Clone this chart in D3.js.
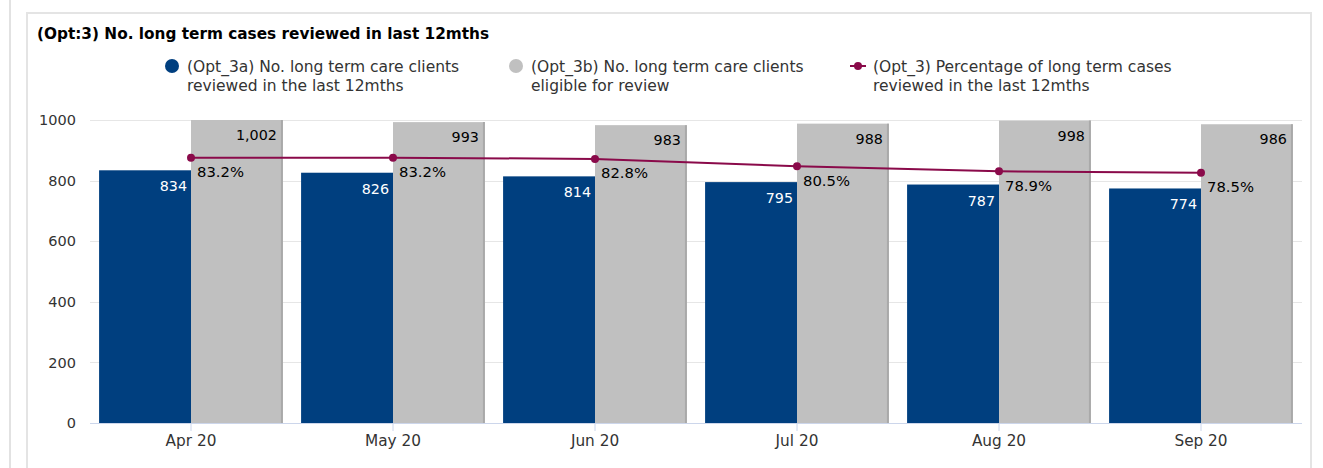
<!DOCTYPE html>
<html>
<head>
<meta charset="utf-8">
<script src="https://cdn.jsdelivr.net/npm/d3@7"></script>
<style>
  html, body { margin: 0; padding: 0; background: #fff; }
  svg { display: block; font-family: "DejaVu Sans", Verdana, sans-serif; }
</style>
</head>
<body>
<svg id="chart" width="1323" height="468"></svg>
<script>
// Monthly figures for long term care reviews
const months = ["Apr 20", "May 20", "Jun 20", "Jul 20", "Aug 20", "Sep 20"];
const reviewed = [834, 826, 814, 795, 787, 774];
const eligible = [1002, 993, 983, 988, 998, 986];
const percentReviewed = [0.832, 0.832, 0.828, 0.805, 0.789, 0.785];
const yTicks = [0, 200, 400, 600, 800, 1000];

const seriesNames = [
  ["(Opt_3a) No. long term care clients", "reviewed in the last 12mths"],
  ["(Opt_3b) No. long term care clients", "eligible for review"],
  ["(Opt_3) Percentage of long term cases", "reviewed in the last 12mths"]
];
const colors = { reviewed: "#003f7f", eligible: "#c0c0c0", eligibleEdge: "#a9a9a9", pct: "#8a0a4a" };

const svg = d3.select("#chart");
const W = 1323, H = 468;

// page frame and card
svg.append("line").attr("x1", 10).attr("x2", 10).attr("y1", 0).attr("y2", H)
  .attr("stroke", "#e2e2e2").attr("stroke-width", 2);
svg.append("rect").attr("x", 27).attr("y", 13).attr("width", 1284).attr("height", 470)
  .attr("fill", "#fff").attr("stroke", "#e4e4e4").attr("stroke-width", 2);

// title
svg.append("text").attr("x", 37).attr("y", 39)
  .attr("font-size", 15.3).attr("font-weight", "bold").attr("fill", "#000")
  .text("(Opt:3) No. long term cases reviewed in last 12mths");

const plot = { left: 90, right: 1302, top: 120, bottom: 423 };

const x = d3.scaleBand().domain(months).range([plot.left, plot.right])
  .paddingInner(0.09).paddingOuter(0.045);
const xSub = d3.scaleBand().domain(["reviewed", "eligible"]).range([0, x.bandwidth()]);
const y = d3.scaleLinear().domain([0, 1000]).range([plot.bottom, plot.top]);
const y2 = d3.scaleLinear().domain([0, 0.95]).range([plot.bottom, plot.top]);

// gridlines
svg.append("g").selectAll("line").data(yTicks.filter(t => t > 0)).join("line")
  .attr("x1", plot.left).attr("x2", plot.right)
  .attr("y1", d => Math.round(y(d)) + 0.5).attr("y2", d => Math.round(y(d)) + 0.5)
  .attr("stroke", "#e6e6e6");

// y axis labels
const yAxis = svg.append("g").attr("transform", `translate(${plot.left},0)`)
  .call(d3.axisLeft(y).tickValues(yTicks).tickSize(0).tickPadding(14).tickFormat(d3.format("d")));
yAxis.select(".domain").remove();
yAxis.selectAll("text").attr("font-size", 14.5).attr("fill", "#333")
  .attr("font-family", "DejaVu Sans, Verdana, sans-serif");

// clip bars to the plot area
svg.append("clipPath").attr("id", "plotClip").append("rect")
  .attr("x", plot.left).attr("y", plot.top).attr("width", plot.right - plot.left)
  .attr("height", plot.bottom - plot.top);

const bars = svg.append("g").attr("clip-path", "url(#plotClip)");

bars.selectAll("rect.rev").data(months).join("rect").attr("class", "rev")
  .attr("x", (d) => x(d) + xSub("reviewed"))
  .attr("width", xSub.bandwidth())
  .attr("y", (d, i) => y(reviewed[i]))
  .attr("height", (d, i) => y(0) - y(reviewed[i]))
  .attr("fill", colors.reviewed);

bars.selectAll("rect.elig").data(months).join("rect").attr("class", "elig")
  .attr("x", (d) => x(d) + xSub("eligible"))
  .attr("width", xSub.bandwidth())
  .attr("y", (d, i) => y(eligible[i]))
  .attr("height", (d, i) => y(0) - y(eligible[i]))
  .attr("fill", colors.eligible);

bars.selectAll("line.edge").data(months).join("line").attr("class", "edge")
  .attr("x1", (d) => x(d) + xSub("eligible") + xSub.bandwidth() - 1)
  .attr("x2", (d) => x(d) + xSub("eligible") + xSub.bandwidth() - 1)
  .attr("y1", (d, i) => y(eligible[i]))
  .attr("y2", y(0))
  .attr("stroke", colors.eligibleEdge).attr("stroke-width", 2);

// x axis
const xAxis = svg.append("g").attr("transform", `translate(0,${plot.bottom})`)
  .call(d3.axisBottom(x).tickSize(8).tickPadding(4));
xAxis.select(".domain").attr("stroke", "#ccd6eb").attr("d", `M${plot.left},0.5H${plot.right}`);
xAxis.selectAll(".tick line").attr("stroke", "#ccd6eb");
xAxis.selectAll("text").attr("font-size", 15.3).attr("fill", "#333")
  .attr("font-family", "DejaVu Sans, Verdana, sans-serif");

// data labels on bars
const fmt = d3.format(",");
svg.append("g").selectAll("text").data(months).join("text")
  .attr("x", d => x(d) + xSub("reviewed") + xSub.bandwidth() - 4)
  .attr("y", (d, i) => y(reviewed[i]) + 21)
  .attr("text-anchor", "end").attr("font-size", 14.3).attr("fill", "#fff")
  .text((d, i) => fmt(reviewed[i]));

svg.append("g").selectAll("text").data(months).join("text")
  .attr("x", d => x(d) + xSub("eligible") + xSub.bandwidth() - 6)
  .attr("y", (d, i) => Math.max(y(eligible[i]), plot.top) + 20)
  .attr("text-anchor", "end").attr("font-size", 14.3).attr("fill", "#000")
  .text((d, i) => fmt(eligible[i]));

// percentage line
const cx = d => x(d) + x.bandwidth() / 2;
const line = d3.line().x(d => cx(d)).y((d, i) => y2(percentReviewed[i]));
svg.append("path").datum(months).attr("d", line)
  .attr("fill", "none").attr("stroke", colors.pct).attr("stroke-width", 2);
svg.append("g").selectAll("circle").data(months).join("circle")
  .attr("cx", cx).attr("cy", (d, i) => y2(percentReviewed[i])).attr("r", 4)
  .attr("fill", colors.pct);
svg.append("g").selectAll("text").data(months).join("text")
  .attr("x", d => cx(d) + 6)
  .attr("y", (d, i) => y2(percentReviewed[i]) + 19.5)
  .attr("font-size", 14.8).attr("fill", "#000")
  .text((d, i) => d3.format(".1%")(percentReviewed[i]));

// legend
const legend = svg.append("g").attr("font-size", 15.5).attr("fill", "#333");
const legendX = [172, 516, 858];
legendX.forEach((lx, k) => {
  const g = legend.append("g");
  if (k < 2) {
    g.append("circle").attr("cx", lx).attr("cy", 66).attr("r", 7)
      .attr("fill", k === 0 ? colors.reviewed : colors.eligible);
  } else {
    g.append("line").attr("x1", lx - 8).attr("x2", lx + 8).attr("y1", 66).attr("y2", 66)
      .attr("stroke", colors.pct).attr("stroke-width", 2);
    g.append("circle").attr("cx", lx).attr("cy", 66).attr("r", 4).attr("fill", colors.pct);
  }
  const t = g.append("text").attr("x", lx + 15).attr("y", 71.5).attr("fill", "#333");
  seriesNames[k].forEach((s, j) => {
    t.append("tspan").attr("x", lx + 15).attr("dy", j === 0 ? 0 : 19).text(s);
  });
});
</script>
</body>
</html>
